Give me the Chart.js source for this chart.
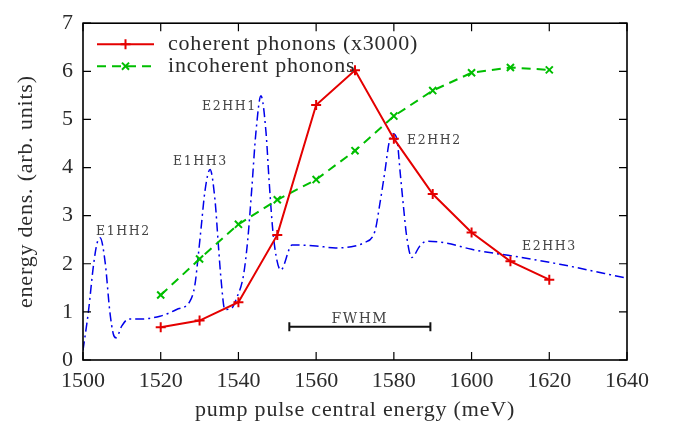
<!DOCTYPE html>
<html><head><meta charset="utf-8">
<script src="https://cdn.jsdelivr.net/npm/chart.js@4"></script>
<style>html,body{margin:0;padding:0;background:#fff}#wrap{width:677px;height:425px}</style>
</head><body><div id="wrap"><canvas id="c" width="677" height="425"></canvas></div>
<script>
// ---- data ----
const pumpEnergy = [1520,1530,1540,1550,1560,1570,1580,1590,1600,1610,1620];
const coherent   = [0.68,0.82,1.20,2.60,5.30,6.02,4.60,3.45,2.65,2.05,1.67];
const incoherent = [1.35,2.10,2.82,3.33,3.75,4.35,5.07,5.60,5.97,6.08,6.03];
const spectrumEnergy = [1500,1501.4,1502.7,1503.6,1504.4,1505.7,1506.9,1507.8,1508.5,1510,1511.7,1514.2,1519.8,1524.1,1527.5,1528.8,1529.7,1530.4,1531.4,1532.7,1534,1534.8,1535.5,1536.5,1538.3,1539.5,1541.3,1542.4,1543.4,1544.5,1545.8,1547.1,1547.9,1549,1550.9,1553.8,1560,1565,1570,1572.1,1575.1,1576.4,1577.7,1578.8,1579.9,1580.9,1581.6,1582.4,1583.3,1584.6,1586.7,1588.4,1593.6,1600,1607.3,1610.7,1622.7,1640];
const spectrumValue  = [0.20,1.01,1.97,2.42,2.54,2.03,1.01,0.54,0.46,0.71,0.85,0.85,0.91,1.05,1.22,1.56,2.20,2.75,3.52,3.96,3.30,2.43,1.70,1.05,1.08,1.28,1.76,2.50,3.52,4.73,5.49,4.73,3.72,2.57,1.87,2.39,2.37,2.33,2.37,2.43,2.67,3.25,3.92,4.53,4.70,4.53,3.92,3.25,2.57,2.13,2.37,2.47,2.43,2.30,2.20,2.16,1.99,1.70];
const xTicks = [1500,1520,1540,1560,1580,1600,1620,1640];
const yTicks = [0,1,2,3,4,5,6,7];
const seriesNames = ['coherent phonons (x3000)','incoherent phonons'];
const peakLabels = ['E1HH2','E1HH3','E2HH1','E2HH2','E2HH3'];
const peakLabelX = [1503.35,1523.16,1530.62,1583.38,1612.97];
const peakLabelY = [2.60,4.06,5.19,4.48,2.29];
const fwhmRange = [1553.1,1589.4];
const fwhmLevel = 0.69;
const xTitle = 'pump pulse central energy (meV)';
const yTitle = 'energy dens. (arb. units)';

const RED='rgb(228,0,0)', GREEN='rgb(0,190,0)', BLUE='rgb(0,0,235)';
const TXT='#2b2b2b';
const SERIF='"Liberation Serif", "DejaVu Serif", serif';

const toXY=(xs,ys)=>xs.map((v,i)=>({x:v,y:ys[i]}));

const overlay = {
  id:'overlay',
  afterDraw(chart){
    const {ctx, chartArea:a, scales:{x,y}} = chart;
    ctx.save();
    // frame
    ctx.strokeStyle='#000'; ctx.lineWidth=1.6;
    ctx.strokeRect(a.left, a.top, a.right-a.left, a.bottom-a.top);
    // inward ticks on all sides
    ctx.lineWidth=1.2;
    ctx.beginPath();
    xTicks.forEach(v=>{const p=x.getPixelForValue(v);
      ctx.moveTo(p,a.bottom); ctx.lineTo(p,a.bottom-8);
      ctx.moveTo(p,a.top); ctx.lineTo(p,a.top+8);});
    yTicks.forEach(v=>{const p=y.getPixelForValue(v);
      ctx.moveTo(a.left,p); ctx.lineTo(a.left+8,p);
      ctx.moveTo(a.right,p); ctx.lineTo(a.right-8,p);});
    ctx.stroke();

    // axis titles
    ctx.fillStyle=TXT;
    ctx.font='22px '+SERIF;
    ctx.letterSpacing='0.8px';
    ctx.textAlign='center'; ctx.textBaseline='alphabetic';
    ctx.fillText(xTitle,(a.left+a.right)/2,416);
    ctx.save();
    ctx.translate(32,(a.top+a.bottom)/2);
    ctx.rotate(-Math.PI/2);
    ctx.fillText(yTitle,0,0);
    ctx.restore();

    // legend
    const lx0=a.left+14, lx1=a.left+71, lxm=(lx0+lx1)/2;
    const ly=[a.top+21,a.top+43];
    const ds=chart.data.datasets;
    [0,1].forEach(i=>{
      const d=ds[i];
      ctx.strokeStyle=d.borderColor; ctx.lineWidth=d.borderWidth;
      ctx.setLineDash(d.borderDash||[]);
      ctx.beginPath(); ctx.moveTo(lx0,ly[i]); ctx.lineTo(lx1,ly[i]); ctx.stroke();
      ctx.setLineDash([]);
      Chart.helpers.drawPoint(ctx,{pointStyle:d.pointStyle,radius:d.pointRadius,borderWidth:d.pointBorderWidth,rotation:0},lxm,ly[i]);
      ctx.textAlign='left'; ctx.fillStyle=TXT;
      ctx.fillText(seriesNames[i],a.left+85,ly[i]+6);
    });

    // peak labels
    ctx.font='12.5px "DejaVu Serif", serif';
    ctx.letterSpacing='1.6px';
    ctx.fillStyle='#444';
    ctx.textAlign='left';
    peakLabels.forEach((t,i)=>ctx.fillText(t,x.getPixelForValue(peakLabelX[i]),y.getPixelForValue(peakLabelY[i])));

    // FWHM bar
    const f0=x.getPixelForValue(fwhmRange[0]), f1=x.getPixelForValue(fwhmRange[1]), fy=y.getPixelForValue(fwhmLevel);
    ctx.strokeStyle='#111'; ctx.lineWidth=2;
    ctx.beginPath();
    ctx.moveTo(f0,fy); ctx.lineTo(f1,fy);
    ctx.moveTo(f0,fy-4.5); ctx.lineTo(f0,fy+4.5);
    ctx.moveTo(f1,fy-4.5); ctx.lineTo(f1,fy+4.5);
    ctx.stroke();
    ctx.font='14px "DejaVu Serif", serif';
    ctx.letterSpacing='1.5px';
    ctx.textAlign='center';
    ctx.fillText('FWHM',(f0+f1)/2,fy-4);
    ctx.restore();
  }
};

new Chart(document.getElementById('c'),{
  type:'line',
  data:{datasets:[
    {label:seriesNames[0],data:toXY(pumpEnergy,coherent),borderColor:RED,backgroundColor:RED,borderWidth:2,
     pointStyle:'cross',pointRadius:5,pointBorderWidth:2,pointBorderColor:RED,tension:0,fill:false},
    {label:seriesNames[1],data:toXY(pumpEnergy,incoherent),borderColor:GREEN,backgroundColor:GREEN,borderWidth:2,borderDash:[9,6],
     pointStyle:'crossRot',pointRadius:5,pointBorderWidth:2,pointBorderColor:GREEN,tension:0,fill:false},
    {label:'spectrum',data:toXY(spectrumEnergy,spectrumValue),borderColor:BLUE,borderWidth:1.5,borderDash:[9,4,2,4],
     pointRadius:0,cubicInterpolationMode:'monotone',fill:false}
  ]},
  options:{
    responsive:false, animation:false, devicePixelRatio:1,
    layout:{padding:{left:0,right:50,top:15,bottom:0}},
    plugins:{legend:{display:false},tooltip:{enabled:false}},
    scales:{
      x:{type:'linear',min:1500,max:1640,
        afterBuildTicks:s=>{s.ticks=xTicks.map(v=>({value:v}));},
        afterFit:s=>{s.height=65;},
        grid:{display:false,drawTicks:false},border:{display:false},
        ticks:{font:{family:SERIF,size:22},color:TXT,padding:8,maxRotation:0,autoSkip:false,callback:v=>String(v)}},
      y:{type:'linear',min:0,max:7,
        afterBuildTicks:s=>{s.ticks=yTicks.map(v=>({value:v}));},
        afterFit:s=>{s.width=83;},
        grid:{display:false,drawTicks:false},border:{display:false},
        ticks:{font:{family:SERIF,size:22},color:TXT,padding:10,autoSkip:false,callback:v=>String(v)}}
    }
  },
  plugins:[overlay]
});
</script></body></html>
